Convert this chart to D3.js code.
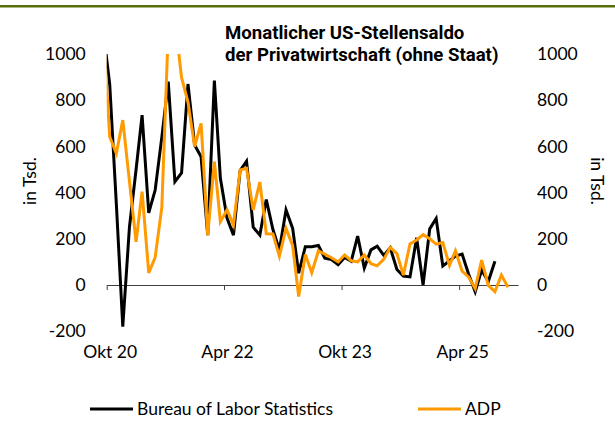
<!DOCTYPE html>
<html lang="de">
<head>
<meta charset="utf-8">
<title>Monatlicher US-Stellensaldo</title>
<script src="https://cdn.jsdelivr.net/npm/d3@7"></script>
<style>
  body { margin: 0; background: #fff; }
  text { font-family: Lato, "Open Sans", sans-serif; fill: #000; }
</style>
</head>
<body>
<script>

// Monate (geplottet wird jeweils die Monatsmitte)
var months = [
  "2020-09","2020-10","2020-11","2020-12",
  "2021-01","2021-02","2021-03","2021-04","2021-05","2021-06","2021-07","2021-08","2021-09","2021-10","2021-11","2021-12",
  "2022-01","2022-02","2022-03","2022-04","2022-05","2022-06","2022-07","2022-08","2022-09","2022-10","2022-11","2022-12",
  "2023-01","2023-02","2023-03","2023-04","2023-05","2023-06","2023-07","2023-08","2023-09","2023-10","2023-11","2023-12",
  "2024-01","2024-02","2024-03","2024-04","2024-05","2024-06","2024-07","2024-08","2024-09","2024-10","2024-11","2024-12",
  "2025-01","2025-02","2025-03","2025-04","2025-05","2025-06","2025-07","2025-08","2025-09","2025-10","2025-11"
];

// Bureau of Labor Statistics, Privatwirtschaft, in Tsd.
var bls = [
  1100, 870, 350, -180,
  250, 500, 735, 312, 411, 640, 880, 447, 485, 870, 606, 555,
  216, 885, 462, 290, 216, 495, 536, 250, 216, 370, 240, 152,
  325, 245, 51, 166, 166, 171, 116, 110, 88, 119, 103, 212,
  73, 152, 168, 128, 161, 67, 39, 35, 204, 0, 243, 288,
  82, 105, 125, 134, 48, -29, 65, 15, 103
];

// ADP, in Tsd.
var adp = [
  1100, 642, 570, 714,
  450, 187, 404, 52, 120, 336, 1100, 1150, 898, 792, 599, 700,
  216, 534, 274, 325, 260, 498, 505, 325, 446, 222, 221, 125,
  245, 170, -50, 132, 53, 148, 133, 118, 100, 130, 105, 100,
  130, 92, 83, 112, 163, 136, 43, 178, 195, 218, 200, 177,
  184, 85, 148, 60, 35, -16, 108, -2, -29, 43, -10
];

var yTicks = [-200, 0, 200, 400, 600, 800, 1000];
var xTicks = ["2020-10", "2022-04", "2023-10", "2025-04"];
var xTickLabels = ["Okt 20", "Apr 22", "Okt 23", "Apr 25"];
var titleLines = ["Monatlicher US-Stellensaldo", "der Privatwirtschaft (ohne Staat)"];
var seriesNames = ["Bureau of Labor Statistics", "ADP"];
var seriesColors = ["#000000", "#ff9a00"];

var w = 615;
var h = 437;
var fs = "17.5px";
var parseMonth = d3.timeParse("%Y-%m");
function midMonth(s) { var d = parseMonth(s); return new Date(d.getFullYear(), d.getMonth(), 15); }

var x = d3.scaleTime()
          .domain([new Date(2020, 9, 1), new Date(2026, 0, 1)])
          .range([106.7, 518.1]);

var y = d3.scaleLinear()
          .domain([-200, 1000])
          .range([331.2, 54]);

var svg = d3.select("body")
            .append("svg")
            .attr("width", w)
            .attr("height", h);

// gruener Balken oben
svg.append("rect")
   .attr("x", 0).attr("y", 5)
   .attr("width", w).attr("height", 2.5)
   .attr("fill", "#5a6e0a");

// Titel
svg.append("g")
   .selectAll("text")
   .data(titleLines)
   .enter()
   .append("text")
   .attr("x", 225)
   .attr("y", function(d, i) { return 39 + i * 22; })
   .style("font-family", "Roboto, sans-serif")
   .style("font-weight", "bold")
   .style("font-size", "18.6px")
   .text(function(d) { return d; });

// y-Achsen links und rechts
var yFmt = function(d) { return String(d); };
var yLeft = d3.axisLeft(y).tickValues(yTicks).tickSize(0).tickPadding(21).tickFormat(yFmt);
var yRight = d3.axisRight(y).tickValues(yTicks).tickSize(0).tickPadding(19).tickFormat(yFmt);

svg.append("g")
   .attr("transform", "translate(106.7,0)")
   .call(yLeft)
   .call(function(g) { g.select(".domain").remove(); })
   .selectAll("text")
   .style("font-size", fs);

svg.append("g")
   .attr("transform", "translate(518.1,0)")
   .call(yRight)
   .call(function(g) { g.select(".domain").remove(); })
   .selectAll("text")
   .style("font-size", fs);

svg.selectAll("g").attr("font-family", null);

// Achsentitel
svg.append("text")
   .attr("transform", "translate(36,181) rotate(-90)")
   .attr("text-anchor", "middle")
   .style("font-size", fs)
   .text("in Tsd.");

svg.append("text")
   .attr("transform", "translate(591,181) rotate(90)")
   .attr("text-anchor", "middle")
   .style("font-size", fs)
   .text("in Tsd.");

// x-Achse auf der Nulllinie
var xAxis = d3.axisBottom(x)
              .tickValues(xTicks.map(parseMonth))
              .tickSize(5)
              .tickSizeOuter(0)
              .tickFormat(function(d, i) { return xTickLabels[i]; });

var gx = svg.append("g")
            .attr("transform", "translate(0," + y(0) + ")")
            .call(xAxis)
            .attr("font-family", null);
gx.select(".domain").attr("stroke", "#404040");
gx.selectAll(".tick line").attr("stroke", "#404040");
gx.selectAll(".tick text")
  .attr("y", 0)
  .attr("dy", y(-200) + 27 - y(0))
  .attr("dx", 3)
  .style("font-size", fs);

// Linien
svg.append("clipPath")
   .attr("id", "plot")
   .append("rect")
   .attr("x", x.range()[0])
   .attr("y", y(1000))
   .attr("width", x.range()[1] - x.range()[0])
   .attr("height", y(-200) - y(1000) + 10);

var line = d3.line()
             .x(function(d) { return x(d.date); })
             .y(function(d) { return y(d.value); });

var series = [bls, adp].map(function(vals, k) {
  return {
    name: seriesNames[k],
    color: seriesColors[k],
    points: vals.map(function(v, i) { return { date: midMonth(months[i]), value: v }; })
  };
});

svg.append("g")
   .attr("clip-path", "url(#plot)")
   .selectAll("path")
   .data(series)
   .enter()
   .append("path")
   .attr("d", function(d) { return line(d.points); })
   .attr("fill", "none")
   .attr("stroke", function(d) { return d.color; })
   .attr("stroke-width", 3)
   .attr("stroke-linejoin", "miter");

// Legende
var legX = [90, 418];
var leg = svg.append("g")
             .selectAll("g")
             .data(series)
             .enter()
             .append("g")
             .attr("transform", function(d, i) { return "translate(" + legX[i] + ",409)"; });

leg.append("line")
   .attr("x1", 0).attr("x2", 43)
   .attr("stroke", function(d) { return d.color; })
   .attr("stroke-width", 3);

leg.append("text")
   .attr("x", 47)
   .attr("dy", "0.35em")
   .style("font-size", fs)
   .text(function(d) { return d.name; });

</script>
</body>
</html>
